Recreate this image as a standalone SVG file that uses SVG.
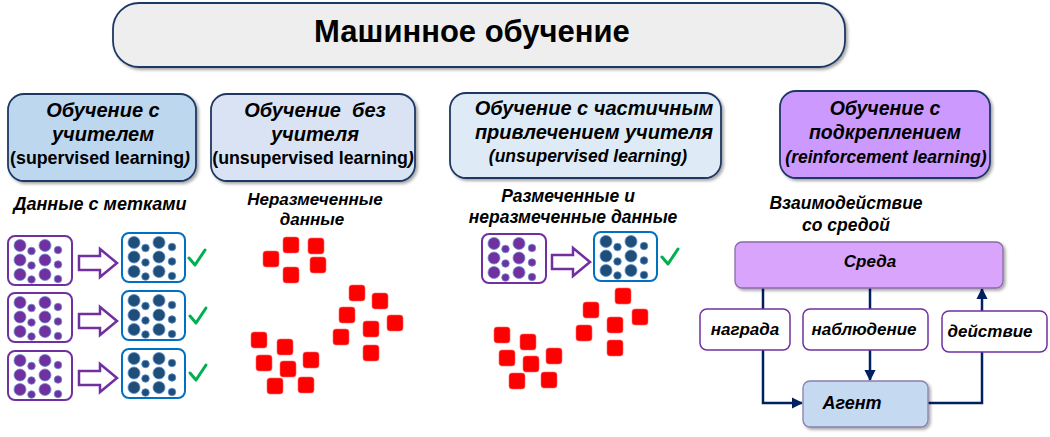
<svg xmlns="http://www.w3.org/2000/svg" width="1050" height="437" viewBox="0 0 1050 437">
<style>
.t{font-family:"Liberation Sans",Arial,sans-serif;font-weight:bold;fill:#000;text-anchor:middle}
.i{font-style:italic}
.hdr{stroke:#1f3864;stroke-width:1.8}
.pbox{fill:#fff;stroke:#7030a0;stroke-width:2}
.bbox{fill:#fff;stroke:#0070c0;stroke-width:2}
.pc{fill:#7030a0;stroke:#6f8fcf;stroke-width:0.8}
.bc{fill:#1f4e79;stroke:#5b8fd0;stroke-width:0.8}
.arr{fill:#fff;stroke:#7030a0;stroke-width:2.5;stroke-linejoin:miter}
.chk{fill:none;stroke:#00b050;stroke-width:3;stroke-linecap:round;stroke-linejoin:round}
.sq{fill:#ff0000;stroke:#ff6666;stroke-width:0.6}
.lbl{fill:#fff;stroke:#7030a0;stroke-width:1.5}
.con{fill:none;stroke:#002060;stroke-width:2.5}
</style>
<defs>
<filter id="sh" x="-10%" y="-10%" width="130%" height="140%">
<feDropShadow dx="2" dy="2" stdDeviation="1.5" flood-color="#000" flood-opacity="0.35"/>
</filter>
<marker id="ah" viewBox="0 0 10 10" refX="9" refY="5" markerWidth="4.5" markerHeight="4.5" orient="auto" markerUnits="strokeWidth">
<path d="M0,0 L10,5 L0,10 z" fill="#002060"/>
</marker>
<g id="pdots">
<rect class="pbox" x="0" y="0" width="64" height="49" rx="7"/>
<circle class="pc" cx="12" cy="9.5" r="6"/><circle class="pc" cx="37" cy="9.5" r="6"/>
<circle class="pc" cx="12" cy="24" r="6"/><circle class="pc" cx="37" cy="24" r="6"/>
<circle class="pc" cx="12" cy="38.5" r="6"/><circle class="pc" cx="37" cy="38.5" r="6"/>
<circle class="pc" cx="23.5" cy="15" r="3.8"/><circle class="pc" cx="50" cy="14" r="3.8"/>
<circle class="pc" cx="23.5" cy="29.5" r="3.8"/><circle class="pc" cx="50" cy="28.5" r="3.8"/>
<circle class="pc" cx="23.5" cy="43.5" r="3.8"/><circle class="pc" cx="50" cy="43" r="3.8"/>
</g>
<g id="bdots">
<rect class="bbox" x="0" y="0" width="63" height="49" rx="7"/>
<circle class="bc" cx="12" cy="9.5" r="6"/><circle class="bc" cx="37" cy="9.5" r="6"/>
<circle class="bc" cx="12" cy="24" r="6"/><circle class="bc" cx="37" cy="24" r="6"/>
<circle class="bc" cx="12" cy="38.5" r="6"/><circle class="bc" cx="37" cy="38.5" r="6"/>
<circle class="bc" cx="23.5" cy="15" r="3.8"/><circle class="bc" cx="50" cy="14" r="3.8"/>
<circle class="bc" cx="23.5" cy="29.5" r="3.8"/><circle class="bc" cx="50" cy="28.5" r="3.8"/>
<circle class="bc" cx="23.5" cy="43.5" r="3.8"/><circle class="bc" cx="50" cy="43" r="3.8"/>
</g>
<path id="barrow" class="arr" d="M0,-7 L21,-7 L21,-14 L38,0 L21,14 L21,7 L0,7 z"/>
<path id="check" class="chk" d="M0,9 L6,16 L16,1"/>
<rect id="sqr" class="sq" width="16" height="16" rx="3"/>
</defs>

<g id="title">
<rect x="113" y="3" width="732" height="64" rx="26" fill="#eeeeee" class="hdr" filter="url(#sh)"/>
<text class="t" x="472" y="42" font-size="31">Машинное обучение</text>
</g>

<g id="supervised">
<rect x="8" y="94" width="188" height="87" rx="16" fill="#bdd7ee" class="hdr" filter="url(#sh)"/>
<text class="t i" x="103" y="117" font-size="20">Обучение с</text>
<text class="t i" x="103" y="141" font-size="20">учителем</text>
<text class="t" x="100" y="164" font-size="17.8">(supervised learning<tspan class="i">)</tspan></text>
</g>

<g id="unsupervised">
<rect x="211" y="94" width="204" height="87" rx="16" fill="#dae3f3" class="hdr" filter="url(#sh)"/>
<text class="t i" x="315" y="117" font-size="20" xml:space="preserve">Обучение  без</text>
<text class="t i" x="315" y="141" font-size="20">учителя</text>
<text class="t" x="313" y="164" font-size="17.8">(unsupervised learning<tspan class="i">)</tspan></text>
</g>

<g id="semisupervised">
<rect x="450" y="93" width="271" height="85" rx="16" fill="#deebf7" class="hdr" filter="url(#sh)"/>
<text class="t i" x="594" y="115" font-size="20">Обучение с частичным</text>
<text class="t i" x="594" y="139" font-size="20">привлечением учителя</text>
<text class="t i" x="588" y="162" font-size="17.5">(unsupervised learning)</text>
</g>

<g id="reinforcement">
<rect x="780" y="91" width="210" height="87" rx="16" fill="#cc99ff" class="hdr" filter="url(#sh)"/>
<text class="t i" x="885" y="115" font-size="19.5">Обучение с</text>
<text class="t i" x="885" y="139" font-size="19.5">подкреплением</text>
<text class="t i" x="886" y="163" font-size="17.5">(reinforcement learning)</text>
</g>

<g id="captions">
<text class="t i" x="100" y="210" font-size="18">Данные с метками</text>
<text class="t i" x="315" y="205" font-size="17">Неразмеченные</text>
<text class="t i" x="312" y="225" font-size="17">данные</text>
<text class="t i" x="568" y="202" font-size="17.5">Размеченные и</text>
<text class="t i" x="573" y="223" font-size="17.5">неразмеченные данные</text>
<text class="t i" x="846" y="209" font-size="17.5">Взаимодействие</text>
<text class="t i" x="846" y="231" font-size="17.5">со средой</text>
</g>

<g id="supervised-data">
<use href="#pdots" x="8" y="236"/>
<use href="#barrow" x="79" y="263"/>
<use href="#bdots" x="122" y="233"/>
<use href="#check" x="189" y="249"/>
<use href="#pdots" x="8" y="293"/>
<use href="#barrow" x="79" y="321"/>
<use href="#bdots" x="122" y="291"/>
<use href="#check" x="190" y="307"/>
<use href="#pdots" x="8" y="351"/>
<use href="#barrow" x="79" y="378"/>
<use href="#bdots" x="122" y="349"/>
<use href="#check" x="190" y="364"/>
</g>

<g id="unsupervised-data">
<use href="#sqr" x="283" y="237"/><use href="#sqr" x="308" y="238"/><use href="#sqr" x="263" y="251"/>
<use href="#sqr" x="310" y="257"/><use href="#sqr" x="283" y="267"/>
<use href="#sqr" x="349" y="285"/><use href="#sqr" x="372" y="293"/><use href="#sqr" x="339" y="307"/>
<use href="#sqr" x="387" y="315"/><use href="#sqr" x="363" y="321"/><use href="#sqr" x="333" y="329"/>
<use href="#sqr" x="363" y="345"/>
<use href="#sqr" x="251" y="332"/><use href="#sqr" x="277" y="339"/><use href="#sqr" x="256" y="355"/>
<use href="#sqr" x="303" y="352"/><use href="#sqr" x="280" y="361"/><use href="#sqr" x="267" y="378"/>
<use href="#sqr" x="298" y="377"/>
</g>

<g id="semisupervised-data">
<use href="#pdots" x="482" y="234"/>
<use href="#barrow" x="552" y="262"/>
<use href="#bdots" x="594" y="232"/>
<use href="#check" x="662" y="248"/>
<use href="#sqr" x="615" y="288"/><use href="#sqr" x="583" y="302"/><use href="#sqr" x="632" y="309"/>
<use href="#sqr" x="607" y="317"/><use href="#sqr" x="576" y="325"/><use href="#sqr" x="607" y="340"/>
<use href="#sqr" x="494" y="327"/><use href="#sqr" x="520" y="334"/><use href="#sqr" x="499" y="350"/>
<use href="#sqr" x="546" y="348"/><use href="#sqr" x="523" y="356"/><use href="#sqr" x="509" y="373"/>
<use href="#sqr" x="541" y="372"/>
</g>

<g id="connectors">
<path class="con" d="M763,288 V309"/>
<path class="con" d="M763,350 V403 H802" marker-end="url(#ah)"/>
<path class="con" d="M870,288 V309"/>
<path class="con" d="M870,350 V380" marker-end="url(#ah)"/>
<path class="con" d="M928,403 H982 V352"/>
<path class="con" d="M982,311 V289" marker-end="url(#ah)"/>
</g>

<g id="env">
<rect x="735" y="242" width="268" height="46" rx="7" fill="#d9a5fc" stroke="#8a6aa8" stroke-width="1.3" filter="url(#sh)"/>
<text class="t i" x="870" y="267" font-size="17">Среда</text>
</g>
<g id="reward">
<rect class="lbl" x="700" y="309" width="90" height="41" rx="7"/>
<text class="t i" x="745" y="335" font-size="17">награда</text>
</g>
<g id="observation">
<rect class="lbl" x="803" y="309" width="125" height="41" rx="7"/>
<text class="t i" x="864" y="335" font-size="17">наблюдение</text>
</g>
<g id="action">
<rect class="lbl" x="942" y="311" width="105" height="41" rx="7"/>
<text class="t i" x="990" y="337" font-size="17">действие</text>
</g>
<g id="agent">
<rect x="803" y="381" width="125" height="46" rx="7" fill="#c5d9f1" stroke="#8a7fae" stroke-width="1.3" filter="url(#sh)"/>
<text class="t i" x="852" y="409" font-size="18">Агент</text>
</g>
</svg>
